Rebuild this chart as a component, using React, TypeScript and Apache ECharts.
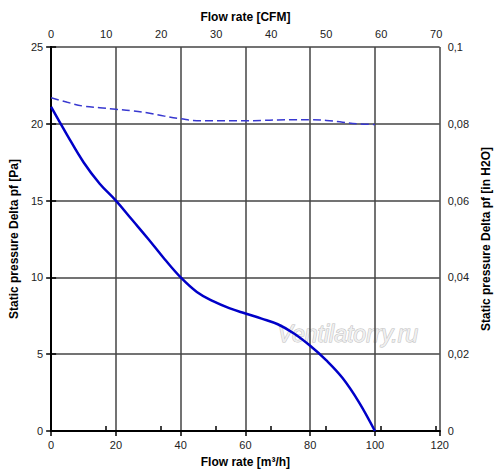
import React, { useEffect, useRef } from "react";
import * as echarts from "echarts";

const flowM3h = [0, 5, 10, 15, 20, 25, 30, 35, 40, 45, 50, 55, 60, 65, 70, 75, 80, 85, 90, 95, 100];
const pressureSolid = [21.1, 19.25, 17.5, 16.1, 15.0, 13.75, 12.5, 11.2, 10.0, 9.05, 8.45, 8.0, 7.65, 7.32, 6.95, 6.35, 5.55, 4.6, 3.45, 1.9, 0];
const pressureDashed = [21.7, 21.4, 21.15, 21.05, 20.95, 20.85, 20.7, 20.5, 20.33, 20.2, 20.2, 20.2, 20.2, 20.22, 20.25, 20.27, 20.27, 20.22, 20.1, 20.0, 19.95];

const M3H_PER_CFM = 1.699;
const xMax = 120;
const yMax = 25;
const inH2OMax = 0.1;

const FONT = "Liberation Sans, Arial, sans-serif";

export default function App() {
  const ref = useRef<HTMLDivElement>(null);
  useEffect(() => {
    if (!ref.current) return;
    const chart = echarts.init(ref.current, null, { renderer: "svg" });
    const labelStyle = { color: "#222", fontSize: 11, fontFamily: FONT };
    const nameStyle = { color: "#000", fontSize: 12, fontWeight: "bold" as const, fontFamily: FONT };
    const axisLine = { show: true, lineStyle: { color: "#000", width: 2 } };
    const axisTick = { show: true, length: 5, lineStyle: { color: "#000", width: 1.5 } };
    const splitLine = { show: true, lineStyle: { color: "#444", width: 1.5 } };
    chart.setOption({
      animation: false,
      backgroundColor: "#fff",
      grid: { left: 51, right: 58, top: 47, bottom: 40, containLabel: false },
      xAxis: [
        {
          type: "value",
          position: "bottom",
          min: 0,
          max: xMax,
          interval: 20,
          name: "Flow rate [m³/h]",
          nameLocation: "middle",
          nameGap: 25,
          nameTextStyle: nameStyle,
          axisLine,
          axisTick,
          axisLabel: { ...labelStyle, margin: 8 },
          splitLine,
        },
        {
          type: "value",
          position: "top",
          min: 0,
          max: xMax / M3H_PER_CFM,
          interval: 10,
          name: "Flow rate [CFM]",
          nameLocation: "middle",
          nameGap: 23,
          nameTextStyle: nameStyle,
          axisLine,
          axisTick,
          axisLabel: { ...labelStyle, margin: 8, showMaxLabel: false },
          splitLine: { show: false },
        },
      ],
      yAxis: [
        {
          type: "value",
          position: "left",
          min: 0,
          max: yMax,
          interval: 5,
          name: "Static pressure Delta pf [Pa]",
          nameLocation: "middle",
          nameGap: 26,
          nameRotate: 90,
          nameTextStyle: nameStyle,
          axisLine,
          axisTick,
          axisLabel: { ...labelStyle, margin: 8 },
          splitLine,
        },
        {
          type: "value",
          position: "right",
          min: 0,
          max: inH2OMax,
          interval: 0.02,
          name: "Static pressure Delta pf [in H2O]",
          nameLocation: "middle",
          nameGap: 38,
          nameRotate: 90,
          nameTextStyle: nameStyle,
          axisLine,
          axisTick,
          axisLabel: {
            ...labelStyle,
            margin: 8,
            formatter: (v: number) => String(parseFloat(v.toFixed(3))).replace(".", ","),
          },
          splitLine: { show: false },
        },
      ],
      graphic: [
        {
          type: "text",
          left: 277,
          top: 322,
          z: 0,
          silent: true,
          style: {
            text: "Ventilatorry.ru",
            font: "italic 23px " + FONT,
            fill: "#efefef",
            stroke: "#bdbdbd",
            lineWidth: 1,
          },
        },
      ],
      series: [
        {
          type: "line",
          xAxisIndex: 0,
          yAxisIndex: 0,
          data: flowM3h.map((x, i) => [x, pressureDashed[i]]),
          smooth: 0.4,
          symbol: "none",
          z: 3,
          lineStyle: { color: "#3838d0", width: 1.5, type: [8, 4] },
        },
        {
          type: "line",
          xAxisIndex: 0,
          yAxisIndex: 0,
          data: flowM3h.map((x, i) => [x, pressureSolid[i]]),
          smooth: 0.4,
          symbol: "none",
          z: 4,
          lineStyle: { color: "#0000c8", width: 2.5 },
        },
      ],
    });
    return () => chart.dispose();
  }, []);
  return (
    <div
      ref={ref}
      style={{ position: "fixed", left: 0, top: 0, width: 500, height: 473, background: "#fff" }}
    />
  );
}
